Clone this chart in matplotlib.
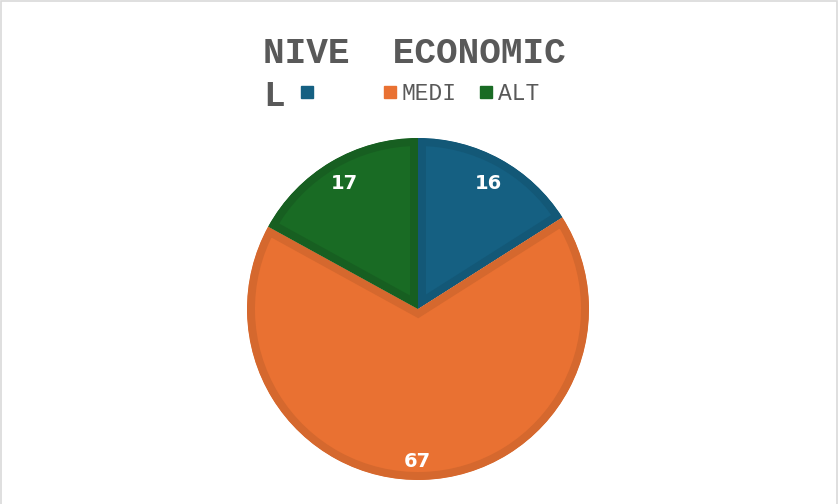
import matplotlib.pyplot as plt
import numpy as np
from matplotlib.patches import Rectangle
from matplotlib.lines import Line2D

# data
categories = ['   ', 'MEDI', 'ALT']
values = [16, 67, 17]
colors = ['#156082', '#E97132', '#196B24']
edge_colors = ['#135877', '#D5682E', '#175F21']
title_lines = ['NIVE  ECONOMIC', 'L']

W, H = 838, 504
fig = plt.figure(figsize=(W / 100, H / 100), dpi=100)

# light grey frame around the chart area
fig.patches.append(Rectangle((0.5 / W, -0.1), 836.5 / W, 1.1 - 1.5 / H, transform=fig.transFigure,
                             fill=False, edgecolor='#d9d9d9', linewidth=1.2))

cx, cy, r = 418, 309, 171
ax = fig.add_axes([(cx - r) / W, (H - cy - r) / H, 2 * r / W, 2 * r / H])
wedges, texts = ax.pie(values, colors=colors, startangle=90, counterclock=False,
                       labels=[str(v) for v in values], labeldistance=0.85,
                       wedgeprops=dict(linewidth=11.5),
                       textprops=dict(color='white', fontsize=14, fontweight='bold',
                                      family='DejaVu Sans', ha='center', va='center'))
# darker band drawn only on the inside of each slice
for w, ec in zip(wedges, edge_colors):
    w.set_edgecolor(ec)
    w.set_clip_on(True)
    w.set_clip_path(w)
# the big slice label sits a bit further out
ang = np.deg2rad((wedges[1].theta1 + wedges[1].theta2) / 2)
texts[1].set_position((0.89 * np.cos(ang) - 0.03, 0.89 * np.sin(ang)))
texts[0].set_y(texts[0].get_position()[1] - 0.01)
ax.set_xlim(-1, 1)
ax.set_ylim(-1, 1)
ax.set_aspect('equal')

fig.text(263 / W, 1 - 36 / H, title_lines[0], family='Liberation Mono', fontweight='bold',
         fontsize=26, color='#595959', ha='left', va='top')
fig.text(263 / W, 1 - 79 / H, title_lines[1], family='Liberation Mono', fontweight='bold',
         fontsize=26, color='#595959', ha='left', va='top')

handles = [Line2D([], [], marker='s', linestyle='none', markersize=8, color=c) for c in colors]
fig.legend(handles, categories, loc='center left', bbox_to_anchor=(288 / W, 1 - 94 / H),
           ncol=3, frameon=False, handlelength=0.7, handletextpad=0.15, columnspacing=0.95,
           prop=dict(family='Liberation Mono', size=16.5), labelcolor='#595959', borderpad=0)

fig.savefig('out.png', dpi=100)
